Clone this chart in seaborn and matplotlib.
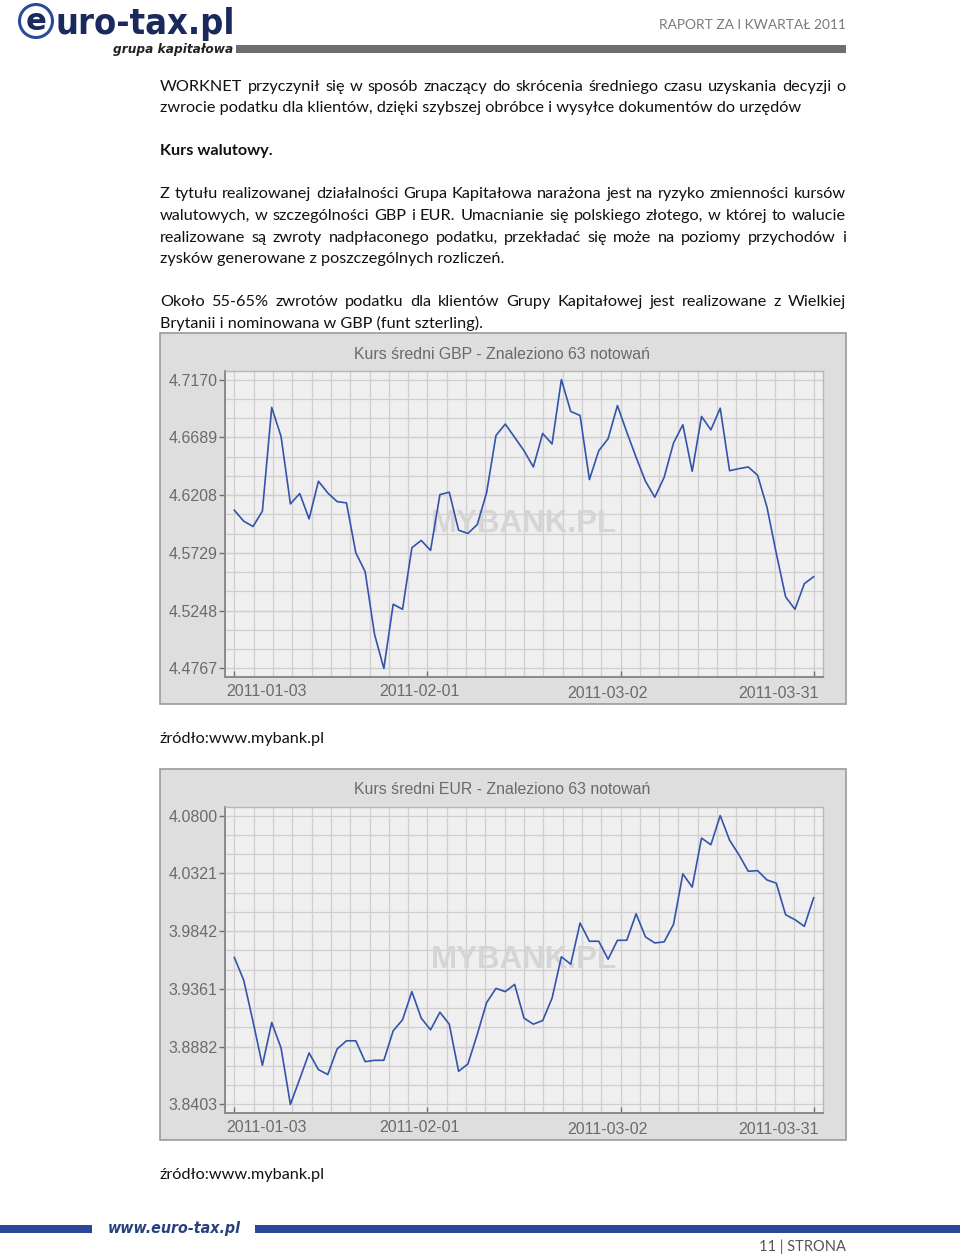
import numpy as np
import pandas as pd
import matplotlib
matplotlib.use("Agg")
import matplotlib.pyplot as plt
import seaborn as sns
from matplotlib.patches import Rectangle, Ellipse
from matplotlib.transforms import ScaledTranslation

# ---------------- data ----------------
X_LABELS = ["2011-01-03", "2011-02-01", "2011-03-02", "2011-03-31"]

GBP_TITLE = "Kurs średni GBP - Znaleziono 63 notowań"
GBP_YTICKS = [4.4767, 4.5248, 4.5729, 4.6208, 4.6689, 4.7170]
GBP = [4.6083, 4.5992, 4.5948, 4.6075, 4.6938, 4.6697, 4.6136, 4.6222, 4.6011, 4.6324,
       4.6227, 4.6155, 4.6144, 4.5729, 4.5572, 4.5052, 4.4767, 4.5301, 4.5259, 4.5771,
       4.5832, 4.5749, 4.6213, 4.6233, 4.5917, 4.5890, 4.5964, 4.6230, 4.6705, 4.6800,
       4.6689, 4.6578, 4.6443, 4.6722, 4.6634, 4.7170, 4.6905, 4.6871, 4.6338, 4.6578,
       4.6678, 4.6954, 4.6733, 4.6523, 4.6324, 4.6191, 4.6357, 4.6642, 4.6794, 4.6407,
       4.6863, 4.6752, 4.6932, 4.6412, 4.6429, 4.6443, 4.6374, 4.6110, 4.5725, 4.5362,
       4.5259, 4.5472, 4.5530]

EUR_TITLE = "Kurs średni EUR - Znaleziono 63 notowań"
EUR_YTICKS = [3.8403, 3.8882, 3.9361, 3.9842, 4.0321, 4.0800]
EUR = [3.9622, 3.9435, 3.9091, 3.8728, 3.9083, 3.8871, 3.8403, 3.8615, 3.8830, 3.8692,
       3.8651, 3.8863, 3.8931, 3.8931, 3.8758, 3.8769, 3.8769, 3.9014, 3.9105, 3.9339,
       3.9119, 3.9022, 3.9168, 3.9069, 3.8678, 3.8739, 3.8985, 3.9248, 3.9366, 3.9339,
       3.9399, 3.9119, 3.9069, 3.9099, 3.9284, 3.9628, 3.9567, 3.9908, 3.9757, 3.9757,
       3.9608, 3.9765, 3.9765, 3.9985, 3.9793, 3.9743, 3.9752, 3.9897, 4.0316, 4.0206,
       4.0613, 4.0558, 4.0800, 4.0596, 4.0475, 4.0338, 4.0343, 4.0266, 4.0239, 3.9977,
       3.9936, 3.9881, 4.0118]

WATERMARK = "MYBANK.PL"
SOURCE = "źródło:www.mybank.pl"

HEADER_RIGHT = "RAPORT ZA I KWARTAŁ 2011"
LOGO = "uro-tax.pl"
LOGO_SUB = "grupa kapitałowa"
FOOTER_URL = "www.euro-tax.pl"
PAGE = "11 | STRONA"

PARA1 = [("WORKNET przyczynił się w sposób znaczący do skrócenia średniego czasu uzyskania decyzji o", True),
         ("zwrocie podatku dla klientów, dzięki szybszej obróbce i wysyłce dokumentów do urzędów", False)]
HEADING = "Kurs walutowy."
PARA2 = [("Z tytułu realizowanej działalności Grupa Kapitałowa narażona jest na ryzyko zmienności kursów", True),
         ("walutowych, w szczególności GBP i EUR. Umacnianie się polskiego złotego, w której to walucie", True),
         ("realizowane są zwroty nadpłaconego podatku, przekładać się może na poziomy przychodów i", True),
         ("zysków generowane z poszczególnych rozliczeń.", False)]
PARA3 = [("Około 55-65% zwrotów podatku dla klientów Grupy Kapitałowej jest realizowane z Wielkiej", True),
         ("Brytanii i nominowana w GBP (funt szterling).", False)]

# ---------------- figure ----------------
W, H = 960, 1257
fig = plt.figure(figsize=(W / 100, H / 100), dpi=100)
fig.patch.set_facecolor("white")
renderer = fig.canvas.get_renderer()


def fx(px):
    return px / W


def fy(py):
    return 1 - py / H


def text_width(s, size, **kw):
    t = fig.text(0, 0, s, fontsize=size, **kw)
    w = t.get_window_extent(renderer).width
    t.remove()
    return w


def fit_size(s, target, **kw):
    return 10 * target / text_width(s, 10, **kw)


BODY = dict(family=["Lato", "DejaVu Sans"])
CHART = dict(family=["Liberation Sans", "DejaVu Sans"])

body_fs = fit_size(PARA1[1][0], 646, **BODY)


def draw_line(s, y_base, justify, size=body_fs, x0=160, x1=846, color="#111111", **kw):
    if not justify:
        fig.text(fx(x0), fy(y_base), s, fontsize=size, color=color, va="baseline", ha="left", **BODY, **kw)
        return
    words = s.split(" ")
    texts = [fig.text(0, fy(y_base), w, fontsize=size, color=color, va="baseline", ha="left", **BODY, **kw)
             for w in words]
    widths = [t.get_window_extent(renderer).width for t in texts]
    gap = (x1 - x0 - sum(widths)) / (len(words) - 1)
    x = x0
    for t, w in zip(texts, widths):
        t.set_x(fx(x))
        x += w + gap


# ---- header ----
logo_fs = fit_size(LOGO, 178, family="DejaVu Sans", weight="heavy", stretch="condensed")
fig.text(fx(55), fy(34), LOGO, fontsize=logo_fs, family="DejaVu Sans", weight="heavy",
         stretch="condensed", color="#1b2a5c", va="baseline", ha="left")
fig.text(fx(36), fy(30), "e", fontsize=logo_fs * 0.85, family="DejaVu Sans", weight="heavy",
         color="#1b2a5c", va="baseline", ha="center")
fig.add_artist(Ellipse((fx(36), fy(21)), 33 / W, 33 / H, transform=fig.transFigure,
                       fill=False, edgecolor="#2b4a9c", lw=2.2))
sub_fs = fit_size(LOGO_SUB, 119, family="DejaVu Sans", weight="bold", style="italic", stretch="condensed")
fig.text(fx(113), fy(53), LOGO_SUB, fontsize=sub_fs, family="DejaVu Sans", weight="bold",
         style="italic", stretch="condensed", color="#222222", va="baseline", ha="left")
fig.add_artist(Rectangle((fx(236), fy(53)), (846 - 236) / W, 8 / H, transform=fig.transFigure,
                         facecolor="#6e6e6e", edgecolor="none"))
hdr_fs = fit_size(HEADER_RIGHT, 187, **BODY)
fig.text(fx(846), fy(29), HEADER_RIGHT, fontsize=hdr_fs, color="#7a7a7a", va="baseline", ha="right", **BODY)

# ---- body text ----
for (s, j), yb in zip(PARA1, [91, 112]):
    draw_line(s, yb, j)
draw_line(HEADING, 155, False, weight="bold")
for (s, j), yb in zip(PARA2, [198, 220, 242, 263]):
    draw_line(s, yb, j)
for (s, j), yb in zip(PARA3, [306, 328]):
    draw_line(s, yb, j)

# ---- charts ----
tick_fs = fit_size("4.7170", 49, **CHART)
title_fs = fit_size(GBP_TITLE, 298, **CHART)
wm_fs = fit_size(WATERMARK, 185, weight="bold", **CHART)
LABEL_DX = [32, -8.5, -13, -35.5]
LABEL_DY = [0, 0, -2, -2]


def draw_chart(top, title, values, yticks):
    fig.add_artist(Rectangle((fx(160), fy(top + 371)), (846 - 160) / W, 371 / H,
                             transform=fig.transFigure, facecolor="#dedede",
                             edgecolor="#9a9a9a", lw=1.2, zorder=-10))
    fig.text(fx(502), fy(top + 21), title, fontsize=title_fs, color="#6a6a6a",
             ha="center", va="center", **CHART)
    ax = fig.add_axes([fx(225), fy(top + 344), (823 - 225) / W, 306 / H])
    ax.set_zorder(5)
    n = len(values)
    df = pd.DataFrame({"idx": np.arange(n), "val": values})
    sns.lineplot(data=df, x="idx", y="val", ax=ax, color="#3354aa", lw=1.2, zorder=3)
    ax.set_facecolor("#efefef")
    ax.set_xlim(-1, n)
    pad = (yticks[-1] - yticks[0]) * 0.0297
    ax.set_ylim(yticks[0] - pad, yticks[-1] + pad)
    ax.set_yticks(yticks)
    ax.set_yticklabels([f"{v:.4f}" for v in yticks])
    ax.set_xticks(np.linspace(0, n - 1, len(X_LABELS)))
    ax.set_xticklabels(X_LABELS)
    ax.set_xticks(np.linspace(0, n - 1, 31), minor=True)
    ax.set_yticks(np.linspace(yticks[0], yticks[-1], 16), minor=True)
    ax.grid(which="both", color="#cfcfcf", lw=0.9)
    ax.set_axisbelow(True)
    ax.set_xlabel("")
    ax.set_ylabel("")
    ax.tick_params(axis="y", which="major", length=4, width=1, color="#707070", pad=1.5,
                   labelsize=tick_fs, labelcolor="#6b6b6b", direction="out")
    ax.tick_params(axis="x", which="major", length=4, width=1, color="#707070", pad=5,
                   labelsize=tick_fs, labelcolor="#6b6b6b", direction="in")
    ax.tick_params(which="minor", length=0)
    for lab in ax.get_yticklabels() + ax.get_xticklabels():
        lab.set_family(CHART["family"])
    for lab, dx, dy in zip(ax.get_xticklabels(), LABEL_DX, LABEL_DY):
        lab.set_transform(lab.get_transform() + ScaledTranslation(dx / 100, dy / 100, fig.dpi_scale_trans))
    for side in ["left", "bottom"]:
        ax.spines[side].set_color("#8a8a8a")
        ax.spines[side].set_linewidth(1.4)
    for side in ["top", "right"]:
        ax.spines[side].set_color("#b8b8b8")
        ax.spines[side].set_linewidth(1.0)
    ax.text(0.5, 0.5, WATERMARK, transform=ax.transAxes, ha="center", va="center",
            fontsize=wm_fs, weight="bold", color="#d5d5d5", zorder=2, **CHART)
    draw_line(SOURCE, top + 410, False)
    return ax


draw_chart(333, GBP_TITLE, GBP, GBP_YTICKS)
draw_chart(769, EUR_TITLE, EUR, EUR_YTICKS)

# ---- footer ----
fig.add_artist(Rectangle((fx(0), fy(1232.5)), 92 / W, 8 / H, transform=fig.transFigure,
                         facecolor="#2a4799", edgecolor="none"))
fig.add_artist(Rectangle((fx(255), fy(1232.5)), (960 - 255) / W, 8 / H, transform=fig.transFigure,
                         facecolor="#2a4799", edgecolor="none"))
url_fs = fit_size(FOOTER_URL, 132, family="DejaVu Sans", weight="bold", style="italic", stretch="condensed")
fig.text(fx(108), fy(1233), FOOTER_URL, fontsize=url_fs, family="DejaVu Sans", weight="bold",
         style="italic", stretch="condensed", color="#27407f", va="baseline", ha="left")
page_fs = fit_size(PAGE, 86, **BODY)
fig.text(fx(846), fy(1251), PAGE, fontsize=page_fs, color="#555555", va="baseline", ha="right", **BODY)

fig.savefig("out.png", dpi=100, facecolor="white")
